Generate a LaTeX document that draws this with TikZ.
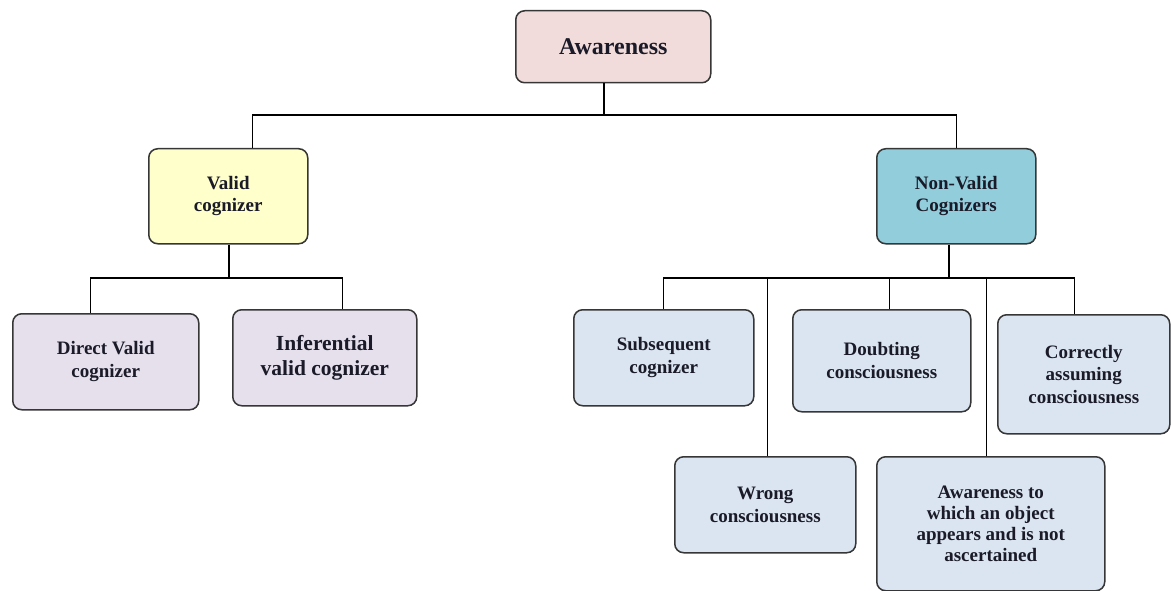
\documentclass[tikz,border=0pt]{standalone}
\usepackage{fontspec}
\setmainfont{Liberation Serif}
\usetikzlibrary{positioning}
\definecolor{awarePink}{HTML}{F2DCDB}
\definecolor{validYellow}{HTML}{FFFFCC}
\definecolor{nonvalidTeal}{HTML}{92CDDC}
\definecolor{validLilac}{HTML}{E5E0EC}
\definecolor{nonvalidBlue}{HTML}{DBE5F1}
\definecolor{boxLine}{HTML}{363636}
\definecolor{boxText}{HTML}{1A1A28}

\tikzset{
  box/.style={draw=boxLine, line width=1.5pt, rounded corners=9pt, align=center,
              anchor=north west, inner sep=2pt, text=boxText,
              font=\fontsize{19}{22.5}\selectfont\bfseries},
  link/.style={line width=1.3pt, black},
}

\begin{document}
\begin{tikzpicture}[x=1pt,y=-1pt]
  \useasboundingbox (0,0) rectangle (1171,591);

  % top level
  \node[box,fill=awarePink,minimum width=195pt,minimum height=72pt,
        font=\fontsize{24}{28}\selectfont\bfseries] (aware) at (515,10) {Awareness};

  % second level
  \node[box,fill=validYellow,minimum width=159pt,minimum height=95pt] (valid) at (148,148) {Valid\\cognizer};
  \node[box,fill=nonvalidTeal,minimum width=159pt,minimum height=95pt] (nonvalid) at (876,148) {Non-Valid\\Cognizers};

  % valid cognizers
  \node[box,fill=validLilac,minimum width=186pt,minimum height=96pt] (direct) at (12,313) {Direct Valid\\cognizer};
  \node[box,fill=validLilac,minimum width=184pt,minimum height=96pt,
        font=\fontsize{21.5}{25}\selectfont\bfseries] (infer) at (232,309) {Inferential\\valid cognizer};

  % non-valid cognizers
  \node[box,fill=nonvalidBlue,minimum width=180pt,minimum height=96pt] (subseq) at (573,309) {Subsequent\\cognizer};
  \node[box,fill=nonvalidBlue,minimum width=178pt,minimum height=102pt] (doubt) at (792,309) {Doubting\\consciousness};
  \node[box,fill=nonvalidBlue,minimum width=172pt,minimum height=119pt] (correct) at (997,314) {Correctly\\assuming\\consciousness};
  \node[box,fill=nonvalidBlue,minimum width=181pt,minimum height=96pt] (wrong) at (674,456) {Wrong\\consciousness};
  \node[box,fill=nonvalidBlue,minimum width=228pt,minimum height=134pt,
        font=\fontsize{19}{21}\selectfont\bfseries] (appears) at (876,456)
        {Awareness to\\which an object\\appears and is not\\ascertained};

  % connectors
  \coordinate (topbus) at (604,115);
  \coordinate (vbus) at (229,278);
  \coordinate (nbus) at (949,278);

  \draw[link] (aware.south -| topbus) -- (topbus);
  \draw[link] ([xshift=24pt]valid.north) |- (topbus) -| (nonvalid.north);

  \draw[link] (valid.south -| vbus) -- (vbus);
  \draw[link] ([xshift=-15pt]direct.north) |- (vbus) -| ([xshift=18pt]infer.north);

  \draw[link] (nonvalid.south -| nbus) -- (nbus);
  \draw[link] (subseq.north) |- (nbus) -| ([xshift=-9pt]correct.north);
  \draw[link] ([xshift=2pt]wrong.north) -- ([xshift=2pt]wrong.north |- nbus);
  \draw[link] ([xshift=8pt]doubt.north) -- ([xshift=8pt]doubt.north |- nbus);
  \draw[link] ([xshift=-4pt]appears.north) -- ([xshift=-4pt]appears.north |- nbus);
\end{tikzpicture}
\end{document}
